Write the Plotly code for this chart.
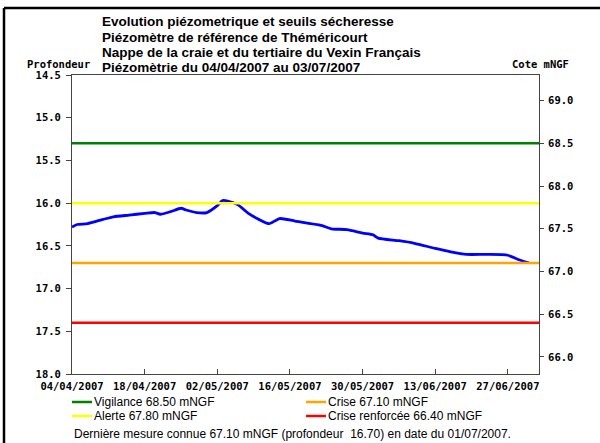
import plotly.graph_objects as go

# mesures piezometriques : date et profondeur (m)
dates = [
    "2007-04-04", "2007-04-05", "2007-04-07", "2007-04-10", "2007-04-12",
    "2007-04-15", "2007-04-18", "2007-04-20", "2007-04-21", "2007-04-23",
    "2007-04-25", "2007-04-26", "2007-04-28", "2007-04-30", "2007-05-02",
    "2007-05-03", "2007-05-04", "2007-05-06", "2007-05-08", "2007-05-10",
    "2007-05-12", "2007-05-14", "2007-05-17", "2007-05-22", "2007-05-24",
    "2007-05-27", "2007-05-30", "2007-06-01", "2007-06-02", "2007-06-06",
    "2007-06-09", "2007-06-13", "2007-06-16", "2007-06-19", "2007-06-23",
    "2007-06-27", "2007-06-29", "2007-07-01",
]
profondeur = [
    16.28, 16.25, 16.24, 16.19, 16.16,
    16.14, 16.12, 16.11, 16.13, 16.10,
    16.06, 16.08, 16.11, 16.11, 16.03,
    15.97, 15.975, 16.02, 16.12, 16.19,
    16.24, 16.18, 16.21, 16.26, 16.30,
    16.31, 16.35, 16.37, 16.41, 16.44,
    16.47, 16.53, 16.57, 16.60, 16.60,
    16.61, 16.66, 16.70,
]

# seuils secheresse (cote mNGF)
seuils_noms = ["Vigilance", "Alerte", "Crise", "Crise renforcée"]
seuils_cotes = [68.50, 67.80, 67.10, 66.40]
seuils_couleurs = ["#008000", "#FFFF00", "#FFA500", "#FF0000"]

date_debut, date_fin = "2007-04-04", "2007-07-03"
x_tickvals = ["2007-04-04", "2007-04-18", "2007-05-02", "2007-05-16",
              "2007-05-30", "2007-06-13", "2007-06-27"]
x_ticktext = ["04/04/2007", "18/04/2007", "02/05/2007", "16/05/2007",
              "30/05/2007", "13/06/2007", "27/06/2007"]

profondeur_range = [18.0, 14.5]
cote_range = [65.8, 69.3]

titre = [
    "Evolution piézometrique et seuils sécheresse",
    "Piézomètre de référence de Théméricourt",
    "Nappe de la craie et du tertiaire du Vexin Français",
    "Piézomètrie du 04/04/2007 au 03/07/2007",
]
derniere = "Dernière mesure connue 67.10 mNGF (profondeur \u00a016.70) en date du 01/07/2007."

W, H = 600, 443
L, R, T, B = 72, 61, 75, 69
PW, PH = W - L - R, H - T - B


def px(x):
    return (x - L) / PW


def py(y):
    return (H - B - y) / PH


MONO = "DejaVu Sans Mono"
SANS = "Liberation Sans, Arial"

fig = go.Figure()

for nom, cote, couleur in zip(seuils_noms, seuils_cotes, seuils_couleurs):
    fig.add_scatter(
        x=[date_debut, date_fin], y=[cote, cote], yaxis="y2", mode="lines",
        line={"color": couleur, "width": 2.5}, name=nom, showlegend=False,
    )

fig.add_scatter(
    x=dates, y=profondeur, mode="lines",
    line={"color": "#0000FF", "width": 2.8, "shape": "spline", "smoothing": 0.6},
    name="Profondeur", showlegend=False,
)

axis_common = {
    "showgrid": False, "zeroline": False, "showline": True, "linecolor": "#444",
    "linewidth": 1, "tickcolor": "#444", "ticklen": 5,
    "tickfont": {"family": MONO, "size": 10.5, "color": "black", "weight": "bold"},
}

fig.update_layout(
    width=W, height=H,
    margin={"l": L, "r": R, "t": T, "b": B, "pad": 0},
    paper_bgcolor="white", plot_bgcolor="white",
    xaxis={
        **axis_common, "type": "date", "range": [date_debut, date_fin],
        "tickvals": x_tickvals, "ticktext": x_ticktext, "ticks": "inside",
        "mirror": True, "ticklabelstandoff": 2,
    },
    yaxis={
        **axis_common, "range": profondeur_range, "dtick": 0.5, "tick0": 14.5,
        "tickformat": ".1f", "ticks": "outside", "ticklabelstandoff": 3,
    },
    yaxis2={
        **axis_common, "range": cote_range, "dtick": 0.5, "tick0": 66.0,
        "tickformat": ".1f", "ticks": "outside", "overlaying": "y", "side": "right",
        "ticklen": 4, "ticklabelstandoff": 2,
    },
    showlegend=False,
)

annotations = []
for i, ligne in enumerate(titre):
    annotations.append(dict(
        text=ligne, x=px(100), y=py(22 + 15 * i), xref="paper", yref="paper",
        xanchor="left", yanchor="middle", showarrow=False,
        font={"family": SANS, "size": 13.5, "color": "black", "weight": "bold"},
    ))
annotations.append(dict(
    text="Profondeur", x=px(58), y=py(64), xref="paper", yref="paper",
    xanchor="center", yanchor="middle", showarrow=False,
    font={"family": MONO, "size": 10.5, "color": "black", "weight": "bold"},
))
annotations.append(dict(
    text="Cote mNGF", x=px(540), y=py(64), xref="paper", yref="paper",
    xanchor="center", yanchor="middle", showarrow=False,
    font={"family": MONO, "size": 10.5, "color": "black", "weight": "bold"},
))

shapes = []
legende_pos = [(72, 402), (72, 416), (306, 402), (306, 416)]
ordre = [0, 1, 2, 3]
for k, (x0, y0) in zip(ordre, legende_pos):
    shapes.append(dict(
        type="line", xref="paper", yref="paper",
        x0=px(x0), x1=px(x0 + 20), y0=py(y0), y1=py(y0),
        line={"color": seuils_couleurs[k], "width": 2.5},
    ))
    annotations.append(dict(
        text=f"{seuils_noms[k]} {seuils_cotes[k]:.2f} mNGF", x=px(x0 + 20), y=py(y0),
        xref="paper", yref="paper", xanchor="left", yanchor="middle", showarrow=False,
        font={"family": SANS, "size": 12, "color": "black"},
    ))
annotations.append(dict(
    text=derniere, x=px(72), y=py(434), xref="paper", yref="paper",
    xanchor="left", yanchor="middle", showarrow=False,
    font={"family": SANS, "size": 12, "color": "black"},
))

# cadre noir autour de l'image
shapes.append(dict(type="line", xref="paper", yref="paper", x0=px(4), x1=px(W), y0=py(8), y1=py(8),
                   line={"color": "black", "width": 2.5}))
shapes.append(dict(type="line", xref="paper", yref="paper", x0=px(4), x1=px(4), y0=py(8), y1=py(H),
                   line={"color": "black", "width": 2.5}))

fig.update_layout(annotations=annotations, shapes=shapes)

fig.write_html(
    "out.html",
    config={"displayModeBar": False},
    post_script="document.body.style.margin='0';document.body.style.overflow='hidden';",
)
